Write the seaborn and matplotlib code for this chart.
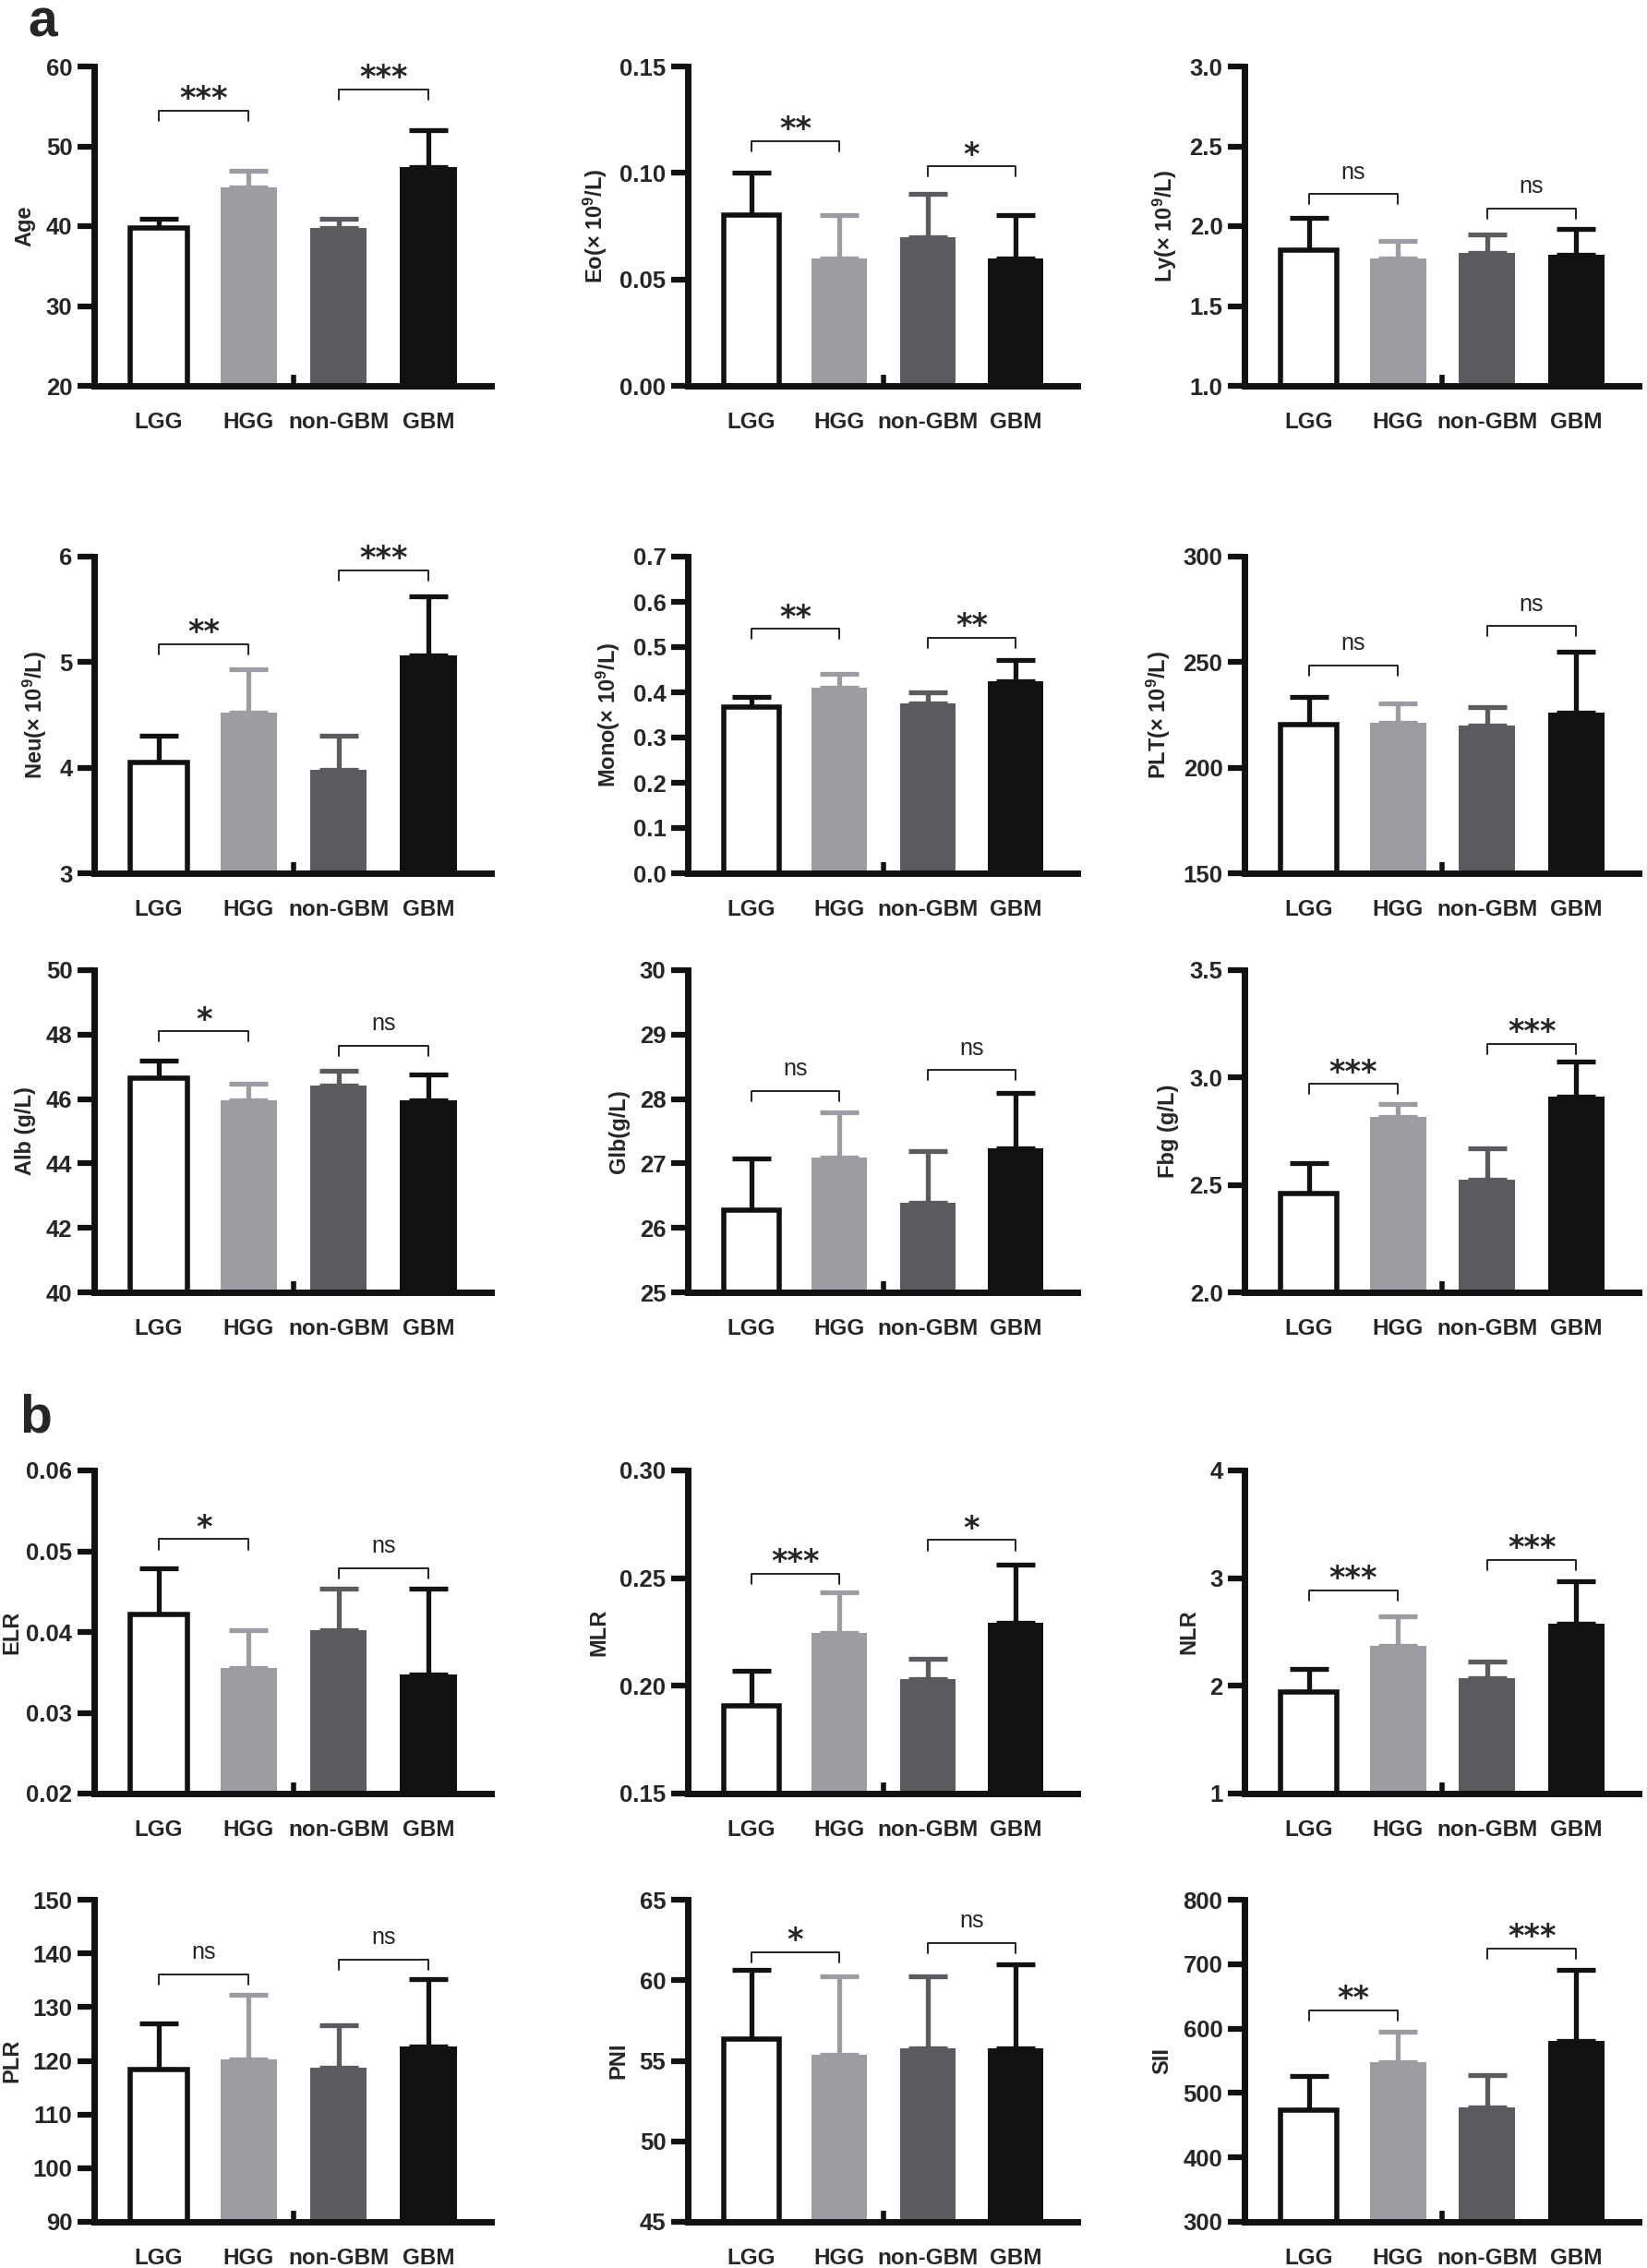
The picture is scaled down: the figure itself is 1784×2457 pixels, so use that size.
import numpy as np
import pandas as pd
import seaborn as sns
import matplotlib.pyplot as plt
from matplotlib.ticker import FormatStrFormatter

# groups and colours
groups = ["LGG", "HGG", "non-GBM", "GBM"]
bar_colors = ["#ffffff", "#9d9ca2", "#5b5a5e", "#111111"]
err_colors = ["#111111", "#9d9ca2", "#5b5a5e", "#111111"]

# panel a : mean and upper error
age_mean = [39.8, 44.9, 39.8, 47.4]
age_err = [1.1, 2.0, 1.1, 4.6]
eo_mean = [0.08, 0.06, 0.07, 0.06]
eo_err = [0.02, 0.02, 0.02, 0.02]
ly_mean = [1.85, 1.80, 1.83, 1.82]
ly_err = [0.20, 0.11, 0.12, 0.16]
neu_mean = [4.05, 4.52, 3.98, 5.06]
neu_err = [0.25, 0.41, 0.32, 0.56]
mono_mean = [0.368, 0.41, 0.375, 0.424]
mono_err = [0.022, 0.03, 0.024, 0.047]
plt_mean = [220.5, 221.5, 220.0, 226.0]
plt_err = [13.0, 9.0, 8.5, 29.0]
alb_mean = [46.65, 45.97, 46.42, 45.97]
alb_err = [0.55, 0.5, 0.47, 0.8]
glb_mean = [26.28, 27.09, 26.39, 27.24]
glb_err = [0.8, 0.71, 0.8, 0.85]
fbg_mean = [2.46, 2.815, 2.525, 2.91]
fbg_err = [0.14, 0.06, 0.145, 0.165]

# panel b
elr_mean = [0.0422, 0.0355, 0.0402, 0.0348]
elr_err = [0.0057, 0.0047, 0.0052, 0.0106]
mlr_mean = [0.1905, 0.2245, 0.203, 0.2295]
mlr_err = [0.0167, 0.0188, 0.0097, 0.0268]
nlr_mean = [1.94, 2.37, 2.07, 2.58]
nlr_err = [0.22, 0.28, 0.155, 0.39]
plr_mean = [118.3, 120.3, 118.7, 122.6]
plr_err = [8.6, 12.0, 8.0, 12.7]
pni_mean = [56.35, 55.35, 55.8, 55.8]
pni_err = [4.3, 4.9, 4.45, 5.2]
sii_mean = [473.5, 548.5, 478.0, 580.5]
sii_err = [53.5, 47.0, 50.5, 110.5]

# y labels, axis ranges, tick steps, tick formats
ylabels = ["Age", "Eo(× 10$^9$/L)", "Ly(× 10$^9$/L)",
           "Neu(× 10$^9$/L)", "Mono(× 10$^9$/L)", "PLT(× 10$^9$/L)",
           "Alb (g/L)", "Glb(g/L)", "Fbg (g/L)",
           "ELR", "MLR", "NLR",
           "PLR", "PNI", "SII"]
ylims = [(20, 60), (0, 0.15), (1, 3),
         (3, 6), (0, 0.7), (150, 300),
         (40, 50), (25, 30), (2, 3.5),
         (0.02, 0.06), (0.15, 0.30), (1, 4),
         (90, 150), (45, 65), (300, 800)]
ysteps = [10, 0.05, 0.5, 1, 0.1, 50, 2, 1, 0.5, 0.01, 0.05, 1, 10, 5, 100]
yfmts = ["%d", "%.2f", "%.1f", "%d", "%.1f", "%d", "%d", "%d", "%.1f",
         "%.2f", "%.2f", "%d", "%d", "%d", "%d"]

# significance brackets: (LGG vs HGG, non-GBM vs GBM)
bracket_y = [(54.5, 57.1), (0.115, 0.103), (2.20, 2.11),
             (5.17, 5.87), (0.54, 0.52), (248.5, 267),
             (48.1, 47.65), (28.13, 28.45), (2.97, 3.155),
             (0.0515, 0.0479), (0.2522, 0.2677), (2.885, 3.17),
             (136.1, 138.8), (61.75, 62.3), (628, 724)]
bracket_lab = [("***", "***"), ("**", "*"), ("ns", "ns"),
               ("**", "***"), ("**", "**"), ("ns", "ns"),
               ("*", "ns"), ("ns", "ns"), ("***", "***"),
               ("*", "ns"), ("***", "*"), ("***", "***"),
               ("ns", "ns"), ("*", "ns"), ("**", "***")]

means = [age_mean, eo_mean, ly_mean, neu_mean, mono_mean, plt_mean,
         alb_mean, glb_mean, fbg_mean, elr_mean, mlr_mean, nlr_mean,
         plr_mean, pni_mean, sii_mean]
errs = [age_err, eo_err, ly_err, neu_err, mono_err, plt_err,
        alb_err, glb_err, fbg_err, elr_err, mlr_err, nlr_err,
        plr_err, pni_err, sii_err]

sns.set_theme(style="ticks")
plt.rcParams["font.family"] = ["Liberation Sans", "DejaVu Sans"]
plt.rcParams["mathtext.fontset"] = "custom"
plt.rcParams["mathtext.bf"] = "Liberation Sans:bold"
plt.rcParams["mathtext.rm"] = "Liberation Sans:bold"
plt.rcParams["mathtext.default"] = "bf"

W, H = 1784, 2457
fig = plt.figure(figsize=(W / 100, H / 100), dpi=100)

# axes frames in pixels
col_left = [102, 745, 1348]
col_width = [430, 422, 427]
row_span = [(72, 418), (603, 946), (1051, 1400), (1593, 1943), (2058, 2407)]

axes = []
for i in range(15):
    r, c = divmod(i, 3)
    top, bot = row_span[r]
    ax = fig.add_axes([col_left[c] / W, 1 - bot / H, col_width[c] / W, (bot - top) / H])
    axes.append(ax)

    df = pd.DataFrame({"group": groups, "value": means[i]})
    sns.barplot(data=df, x="group", y="value", hue="group", palette=bar_colors,
                legend=False, width=0.63, saturation=1, ax=ax, zorder=2)
    for j, patch in enumerate(ax.patches):
        if j == 0:
            patch.set_edgecolor("#111111")
            patch.set_linewidth(4)
        else:
            patch.set_linewidth(0)

    for j in range(4):
        ax.errorbar(j, means[i][j], yerr=[[0], [errs[i][j]]], fmt="none",
                    ecolor=err_colors[j], elinewidth=3.8, capsize=15,
                    capthick=3.8, zorder=1)

    y0, y1 = ylims[i]
    rng = y1 - y0
    ax.set_ylim(y0, y1)
    ax.set_xlim(-0.72, 3.7)
    ax.set_yticks(np.arange(y0, y1 + ysteps[i] / 2, ysteps[i]))
    ax.yaxis.set_major_formatter(FormatStrFormatter(yfmts[i]))

    # little stub on the axis between HGG and non-GBM
    ax.plot([1.5, 1.5], [y0, y0 + 0.035 * rng], color="#111111", lw=4,
            solid_capstyle="butt", zorder=3)

    # brackets
    for k, (a, b) in enumerate([(0, 1), (2, 3)]):
        by = bracket_y[i][k]
        drop = 0.032 * rng
        ax.plot([a, a, b, b], [by - drop, by, by, by - drop], color="#111111",
                lw=1.3, clip_on=False, zorder=3)
        lab = bracket_lab[i][k]
        if lab == "ns":
            ax.annotate(lab, xy=((a + b) / 2, by), xytext=(0, 12),
                        textcoords="offset points", ha="center", va="baseline",
                        fontsize=18, annotation_clip=False)
        else:
            ax.annotate(lab, xy=((a + b) / 2, by), xytext=(0, 2),
                        textcoords="offset points", ha="center", va="baseline",
                        fontsize=24, fontweight="bold", family="DejaVu Sans",
                        annotation_clip=False)

    sns.despine(ax=ax)
    for s in ["left", "bottom"]:
        ax.spines[s].set_linewidth(5)
        ax.spines[s].set_color("#111111")
    ax.tick_params(axis="y", length=13, width=4.5, pad=4, labelsize=18.5,
                   color="#111111")
    ax.tick_params(axis="x", length=0, pad=20, labelsize=17.5)
    for t in ax.get_yticklabels() + ax.get_xticklabels():
        t.set_fontweight("bold")
    ax.set_xlabel("")
    ax.set_ylabel(ylabels[i], fontsize=17, fontweight="bold", labelpad=8)

fig.text(30 / W, 1 - 40 / H, "a", fontsize=41, fontweight="bold", va="baseline")
fig.text(21 / W, 1 - 1552 / H, "b", fontsize=41, fontweight="bold", va="baseline")

# keep y labels inside the left edge of the figure
fig.canvas.draw()
renderer = fig.canvas.get_renderer()
for ax in axes:
    lab = ax.yaxis.label
    bb = lab.get_window_extent(renderer)
    if bb.x0 < 2:
        ax_bb = ax.get_window_extent(renderer)
        # the label is anchored at its right side
        cx = (1 + bb.width - ax_bb.x0) / ax_bb.width
        ax.yaxis.set_label_coords(cx, 0.5)

fig.savefig("out.png", dpi=100, facecolor="white")
